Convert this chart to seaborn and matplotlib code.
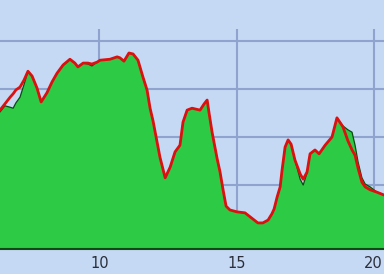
import matplotlib
matplotlib.use("Agg")
import matplotlib.pyplot as plt
import seaborn as sns
import pandas as pd

# distance positions (x) shared by both series
x_vals = [6.38, 6.56, 6.75, 6.86, 6.96, 7.11, 7.26, 7.40, 7.55, 7.73, 7.88, 8.09,
          8.28, 8.46, 8.68, 8.93, 9.11, 9.22, 9.41, 9.59, 9.73, 9.92, 10.03, 10.39,
          10.65, 10.75, 10.90, 11.08, 11.23, 11.41, 11.59, 11.74, 11.85, 11.96, 12.21,
          12.40, 12.58, 12.76, 12.94, 13.05, 13.20, 13.38, 13.67, 13.82, 13.93, 14.00,
          14.11, 14.29, 14.40, 14.51, 14.62, 14.76, 15.02, 15.31, 15.60, 15.78, 15.96,
          16.15, 16.29, 16.37, 16.48, 16.59, 16.66, 16.77, 16.88, 16.99, 17.13, 17.32,
          17.43, 17.57, 17.68, 17.86, 18.01, 18.23, 18.48, 18.66, 18.88, 19.06, 19.21,
          19.32, 19.43, 19.57, 19.69, 19.87, 20.12, 20.38]

# red profile line
red_vals = [356, 369, 383, 390, 398, 404, 419, 437, 427, 402, 373, 392,
            415, 433, 450, 462, 454, 446, 454, 454, 452, 456, 460, 462,
            467, 465, 458, 475, 473, 460, 425, 398, 360, 333, 258,
            215, 237, 269, 283, 331, 356, 360, 356, 369, 377, 350,
            310, 256, 227, 190, 156, 148, 144, 142, 129, 121, 121,
            127, 140, 150, 175, 196, 231, 279, 294, 285, 252, 223,
            212, 227, 265, 273, 265, 283, 300, 340, 321, 292, 273,
            262, 235, 206, 196, 190, 185, 179]

# green filled area
green_vals = [352, 365, 362, 360, 371, 383, 410, 437, 427, 402, 373, 392,
              415, 433, 450, 462, 454, 446, 454, 452, 448, 456, 460, 462,
              467, 465, 458, 475, 473, 460, 425, 398, 360, 333, 258,
              215, 237, 269, 283, 331, 356, 360, 356, 369, 377, 350,
              310, 256, 227, 190, 156, 148, 144, 142, 129, 121, 121,
              127, 140, 150, 175, 196, 231, 279, 294, 285, 252, 212,
              200, 225, 265, 273, 265, 283, 300, 340, 323, 315, 310,
              283, 248, 215, 202, 196, 185, 179]

x_ticks = [10, 15, 20]
y_grid = [100, 200, 300, 400, 500]

df = pd.DataFrame({"x": x_vals, "red": red_vals, "green": green_vals})

bg = "#c5d9f4"
sns.set_style("whitegrid", {"axes.facecolor": bg, "figure.facecolor": bg,
                            "grid.color": "#8fa3cf", "axes.edgecolor": bg})
plt.rcParams["font.family"] = ["DejaVu Sans"]

fig = plt.figure(figsize=(3.84, 2.74), dpi=100)
ax = fig.add_axes([0, 25 / 274, 1, 220 / 274])
ymin, ymax = 66.67, 525
ax.set_xlim(6.381, 20.375)
ax.set_ylim(ymin, ymax)

ax.fill_between(df["x"], df["green"], ymin, color="#2dca45", lw=0, zorder=2)
sns.lineplot(data=df, x="x", y="green", ax=ax, color="#0d4a12", lw=0.9, zorder=3)
sns.lineplot(data=df, x="x", y="red", ax=ax, color="#dd1010", lw=2.0, zorder=4)

ax.set_xticks(x_ticks)
ax.set_yticks(y_grid)
ax.grid(True, color="#8fa3cf", lw=1.5, zorder=0)
ax.set_axisbelow(True)
ax.tick_params(axis="x", length=0, pad=5, labelsize=10.5, labelcolor="#2a2f3a")
ax.tick_params(axis="y", length=0, labelleft=False)
ax.set_xlabel("")
ax.set_ylabel("")
for s in ["left", "right", "top"]:
    ax.spines[s].set_visible(False)
ax.spines["bottom"].set_color("#0d4a12")
ax.spines["bottom"].set_linewidth(1.5)
ax.spines["bottom"].set_zorder(5)

fig.savefig("out.png", dpi=100, facecolor=bg)
